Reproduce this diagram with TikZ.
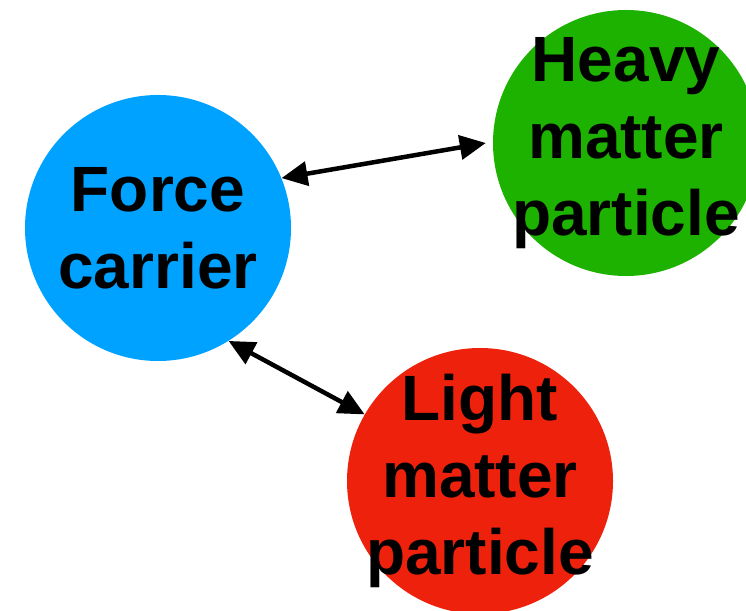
\documentclass[tikz,border=0pt]{standalone}
\usepackage{fontspec}
\setmainfont{Liberation Sans}
\usetikzlibrary{arrows.meta}
\definecolor{pBlue}{HTML}{00A2FF}
\definecolor{pGreen}{HTML}{1DB100}
\definecolor{pRed}{HTML}{EE220C}

\begin{document}
\begin{tikzpicture}[
  x=1pt, y=1pt,
  every node/.style={font=\fontsize{64}{77}\selectfont\bfseries},
  particle/.style={circle, minimum size=266pt, inner sep=-30pt, align=center},
  link/.style={{Triangle[length=26pt, width=24pt]}-{Triangle[length=26pt, width=24pt]},
               line width=4.5pt, black},
]
  % Page frame
  \useasboundingbox (0,0) rectangle (746,610);

  % Particles
  \node[particle, fill=pBlue] (force) at (158,382) {Force\\carrier};
  \node[particle, fill=pGreen] (heavy) at (626,467) {Heavy\\matter\\particle};
  \node[particle, fill=pRed] (light) at (480,129) {Light\\matter\\particle};

  % Interactions
  \draw[link] (force.22) -- ([xshift=-7pt]heavy.180);
  \draw[link] (force.-58) -- (light.150);
\end{tikzpicture}
\end{document}
